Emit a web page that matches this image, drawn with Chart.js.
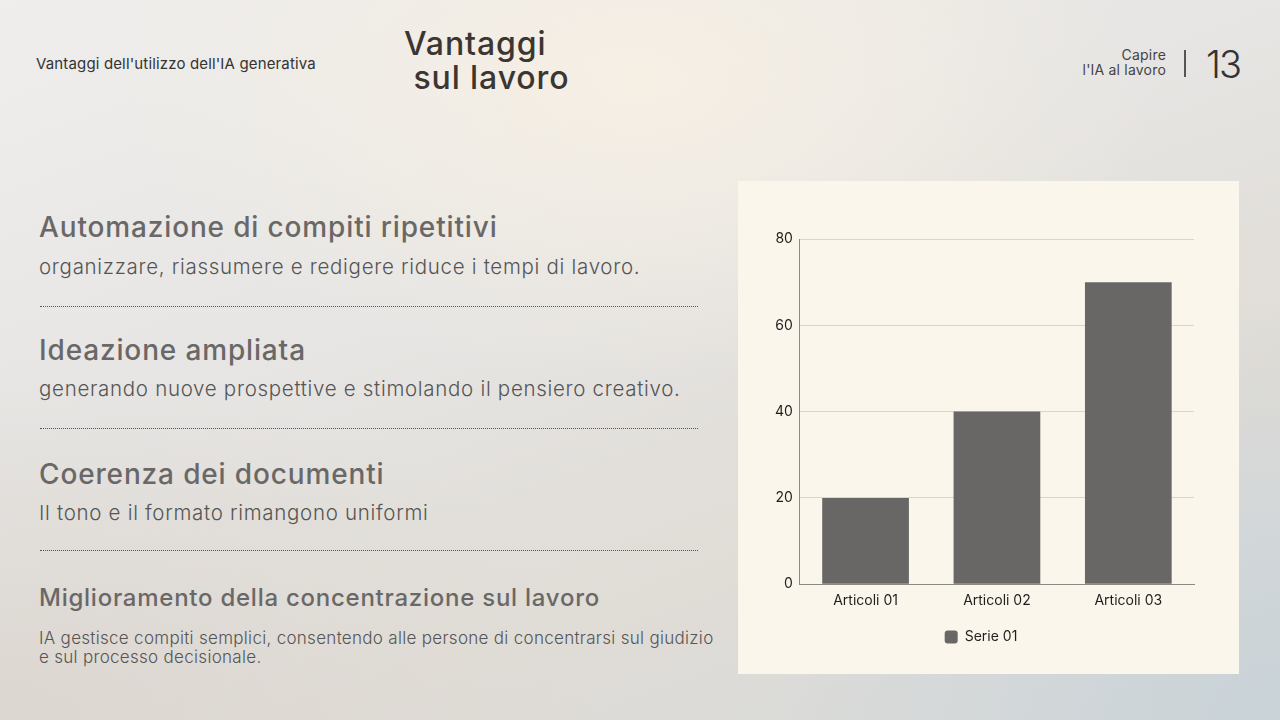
<!DOCTYPE html>
<html>
<head>
<meta charset="utf-8">
<script src="https://cdn.jsdelivr.net/npm/chart.js@4.4.1/dist/chart.umd.min.js"></script>
<style>
  html, body { margin: 0; padding: 0; }
  body {
    width: 1280px; height: 720px; overflow: hidden; position: relative;
    font-family: 'Inter', 'Noto Sans', sans-serif;
    background:
      radial-gradient(ellipse 520px 300px at 640px 80px, rgba(248,240,228,0.9), rgba(248,240,228,0) 100%),
      radial-gradient(ellipse 500px 420px at 1280px 720px, rgba(200,210,216,0.9), rgba(200,210,216,0) 100%),
      radial-gradient(ellipse 600px 360px at 0px 720px, rgba(220,214,208,0.9), rgba(220,214,208,0) 100%),
      linear-gradient(160deg, #efeeec 0%, #e6e5e3 40%, #e0dcd6 70%, #d6dadb 100%);
  }
  .abs { position: absolute; white-space: nowrap; }
  .sub { left: 36px; top: 54px; font-size: 15px; color: #333; letter-spacing: 0.15px; }
  .title { left: 404px; top: 27px; font-size: 32px; line-height: 34px; color: #3b3631; font-weight: 500; letter-spacing: 0.9px; }
  .brand { right: 114px; top: 47px; font-size: 14px; line-height: 15px; text-align: right; color: #444; letter-spacing: 0.2px; }
  .sep { left: 1184px; top: 50px; width: 1.5px; height: 27px; background: #555; }
  .num { left: 1206px; top: 41px; font-size: 38px; font-weight: 300; color: #333; letter-spacing: -2px; }
  .h { left: 39px; font-size: 28px; color: #6a6867; font-weight: 500; letter-spacing: 0.85px; }
  .p { left: 39px; font-size: 20.5px; color: #555; font-weight: 300; letter-spacing: 0.7px; }
  .dots { position: absolute; left: 40px; width: 658px; height: 0; border-top: 1.5px dotted #555; }
  .card { position: absolute; left: 738px; top: 181px; width: 501px; height: 493px; background: #faf6eb; }
  .card canvas { display: block; }
</style>
</head>
<body>
<div class="abs sub">Vantaggi dell'utilizzo dell'IA generativa</div>
<div class="abs title">Vantaggi<br>&nbsp;sul lavoro</div>
<div class="abs brand">Capire<br>l'IA al lavoro</div>
<div class="abs sep"></div>
<div class="abs num">13</div>

<div class="abs h" style="top:210px">Automazione di compiti ripetitivi</div>
<div class="abs p" style="top:254px">organizzare, riassumere e redigere riduce i tempi di lavoro.</div>
<div class="dots" style="top:306px"></div>

<div class="abs h" style="top:333px">Ideazione ampliata</div>
<div class="abs p" style="top:376px">generando nuove prospettive e stimolando il pensiero creativo.</div>
<div class="dots" style="top:428px"></div>

<div class="abs h" style="top:457px">Coerenza dei documenti</div>
<div class="abs p" style="top:500px">Il tono e il formato rimangono uniformi</div>
<div class="dots" style="top:550px"></div>

<div class="abs h" style="top:583px;font-size:24px;letter-spacing:0.75px">Miglioramento della concentrazione sul lavoro</div>
<div class="abs p" style="top:629px;font-size:17px;line-height:19px;letter-spacing:0.3px">IA gestisce compiti semplici, consentendo alle persone di concentrarsi sul giudizio<br>e sul processo decisionale.</div>

<div class="card"><canvas id="chart" width="501" height="493"></canvas></div>

<script>
var categories = ['Articoli 01', 'Articoli 02', 'Articoli 03'];
var serieName = 'Serie 01';
var serieValues = [20, 40, 70];
var yTicks = [0, 20, 40, 60, 80];

var colors = {
    bar        : '#686766',
    grid       : '#d9d5cc',
    axis       : '#8c8a87',
    text       : '#1f1f1f'
};
var fontFamily = "'Inter', 'Noto Sans', sans-serif";

new Chart(document.getElementById('chart'), {
    type: 'bar',
    data: {
        labels: categories,
        datasets: [{
            label: serieName,
            data: serieValues,
            backgroundColor: colors.bar,
            borderWidth: 0,
            barPercentage: 0.66,
            categoryPercentage: 1
        }]
    },
    options: {
        responsive: false,
        animation: false,
        layout: { padding: { top: 58, right: 45, bottom: 20, left: 30 } },
        plugins: {
            tooltip: { enabled: false },
            legend: {
                position: 'bottom',
                labels: {
                    color: colors.text,
                    boxWidth: 13,
                    boxHeight: 13,
                    useBorderRadius: true,
                    borderRadius: 3,
                    padding: 13,
                    font: { size: 14, family: fontFamily }
                }
            }
        },
        scales: {
            x: {
                grid: { display: false, drawTicks: false },
                border: { display: true, color: colors.axis, width: 1 },
                ticks: { color: colors.text, padding: 8, font: { size: 14, family: fontFamily } }
            },
            y: {
                min: yTicks[0],
                max: yTicks[yTicks.length - 1],
                afterBuildTicks: function(axis) { axis.ticks = yTicks.map(function(v) { return { value: v }; }); },
                grid: { color: colors.grid, drawTicks: false },
                border: { display: true, color: colors.axis, width: 1 },
                ticks: { color: colors.text, padding: 7, font: { size: 14, family: fontFamily } }
            }
        }
    }
});
</script>
</body>
</html>
